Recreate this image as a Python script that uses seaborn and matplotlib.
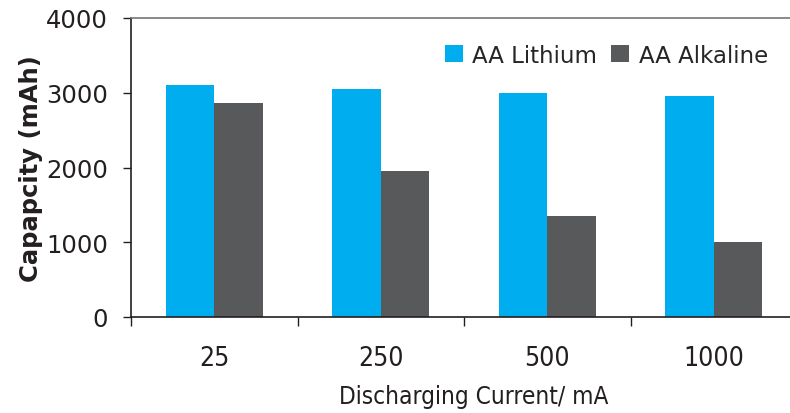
import pandas as pd
import numpy as np
import matplotlib
matplotlib.use('Agg')
import matplotlib.pyplot as plt
import seaborn as sns

# data
currents = ['25', '250', '500', '1000']
lithium = [3100, 3050, 3000, 2950]
alkaline = [2860, 1950, 1350, 1000]
series_names = ['AA Lithium', 'AA Alkaline']

df = pd.DataFrame({'current': currents * 2,
                   'capacity': lithium + alkaline,
                   'battery': [series_names[0]] * 4 + [series_names[1]] * 4})

sns.set_style('white')
plt.rcParams['font.family'] = ['DejaVu Sans']

fig = plt.figure(figsize=(7.9, 4.14), dpi=100)
ax = fig.add_axes([131 / 790, 96 / 414, 666 / 790, 299 / 414])

colors = ['#00adef', '#58595b']
sns.barplot(data=df, x='current', y='capacity', hue='battery', palette=colors,
            width=0.58, saturation=1, ax=ax, edgecolor='none', linewidth=0)

ax.set_xlim(-0.5, 3.5)
ax.set_ylim(0, 4000)
ax.set_yticks([0, 1000, 2000, 3000, 4000])
ax.set_yticklabels(['0', '1000', '2000', '3000', '4000'], fontsize=17.5, color='#231f20')

# x ticks sit between the groups, labels in the middle
ax.set_xticks([-0.5, 0.5, 1.5, 2.5, 3.5])
ax.set_xticklabels([])
ax.set_xticks(range(4), minor=True)
ax.set_xticklabels(currents, minor=True, fontsize=19, color='#231f20', fontstretch='condensed')
ax.tick_params(axis='x', which='major', bottom=True, direction='out', length=6.5, width=1, color='#231f20')
ax.tick_params(axis='x', which='minor', bottom=True, length=0, pad=20)
ax.tick_params(axis='y', left=True, direction='out', length=6, width=1, color='#231f20', pad=10.5)

for s in ['left', 'bottom']:
    ax.spines[s].set_color('#231f20')
    ax.spines[s].set_linewidth(1.2)
ax.spines['top'].set_color('#777777')
ax.spines['top'].set_linewidth(1.2)
ax.spines['right'].set_visible(False)

ax.set_ylabel('Capapcity (mAh)', fontsize=17.5, fontweight='bold', color='#231f20', labelpad=2)
ax.set_xlabel('Discharging Current/ mA', fontsize=17.5, color='#231f20',
              fontstretch='condensed')
ax.xaxis.set_label_coords(0.515, -0.225)

ax.legend(frameon=False, ncol=2, loc='upper right', bbox_to_anchor=(0.97, 0.945),
          fontsize=16.5, handlelength=0.8, handleheight=0.8, handletextpad=0.4,
          columnspacing=0.6, borderaxespad=0)

fig.savefig('out.png', dpi=100)
